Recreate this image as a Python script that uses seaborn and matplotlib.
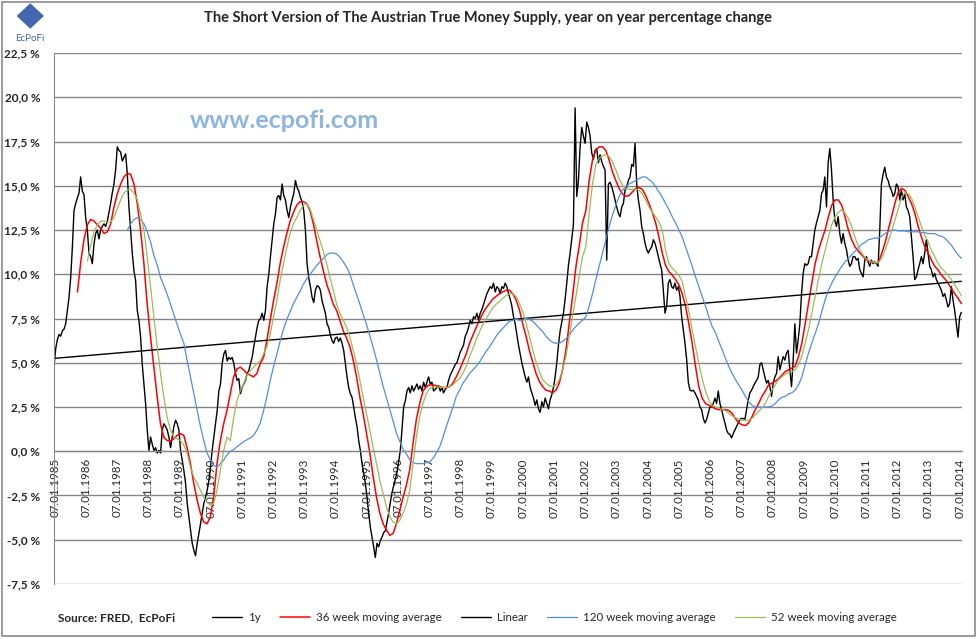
import numpy as np
import pandas as pd
import seaborn as sns
import matplotlib.pyplot as plt
from matplotlib.patches import Rectangle, Polygon

# values read off the chart (yoy % change), 1y sampled every ~2.8 weeks,
# moving averages every ~5.5 weeks
y1_start, y1_end = 1984.98, 2014.05
y1 = [4.8, 5.8, 6.3, 6.6, 6.5, 6.8, 6.9, 7.2, 7.95, 8.7,
      9.8, 11.5, 13.6, 14.0, 14.3, 14.6, 15.5, 14.7, 14.5, 13.2,
      12.5, 11.2, 11.0, 10.6, 11.7, 12.3, 12.5, 12.0, 12.5, 12.7,
      12.85, 12.7, 13.0, 13.5, 14.0, 14.6, 15.1, 15.9, 17.2, 17.0,
      16.9, 16.4, 16.6, 16.8, 15.7, 13.8, 12.5, 11.2, 10.2, 9.65,
      7.95, 7.4, 6.45, 4.9, 3.8, 2.7, 1.2, 0.05, 0.8, 0.4,
      0.05, 0.2, -0.1, 0.05, -0.1, 1.2, 1.55, 1.4, 1.2, 0.8,
      0.2, 0.8, 1.4, 1.75, 1.55, 1.2, 0.05, -0.5, -1.1, -1.8,
      -2.95, -3.7, -4.45, -5.2, -5.6, -5.9, -5.2, -4.65, -4.1, -3.5,
      -2.95, -2.6, -2.2, -1.65, -0.9, 0.05, 0.8, 1.55, 2.3, 3.4,
      3.8, 4.95, 5.5, 5.7, 5.1, 5.3,
      5.2, 5.3, 4.95, 4.4, 4.0, 4.1, 3.25, 3.6, 3.8, 4.0,
      4.4, 4.55, 4.95, 5.3, 5.9, 6.45, 7.0, 7.4, 7.5, 7.8,
      7.4, 7.95, 9.3, 10.0, 11.0, 11.9, 12.85, 13.4, 14.35, 14.45,
      14.2, 15.1, 14.45, 14.2, 13.6, 13.2, 13.8, 14.2, 14.55, 15.3,
      14.9, 14.7, 14.35, 14.1, 13.6, 12.5, 10.6, 9.8, 9.3, 8.7,
      8.4, 9.1, 9.35, 9.3, 9.1, 8.5, 8.15, 7.8, 7.2, 7.0,
      6.55, 6.25, 6.1, 6.4, 6.45, 6.2, 6.4, 6.1, 5.7, 4.95,
      4.2, 3.6, 3.25, 3.05, 2.5, 1.9, 1.4, 0.6, 0.05, -0.7,
      -1.25, -1.8, -2.6, -3.5, -4.3, -4.85, -5.4, -6.0, -5.2, -5.4,
      -5.05, -4.85, -4.6, -4.5, -4.0, -3.5, -2.9, -2.35, -1.95, -1.6,
      -1.2, -0.6, 0.05, 1.2, 2.5, 2.85,
      3.4, 3.6, 3.3, 3.7, 3.4, 3.6, 3.8, 3.5, 3.7, 3.4,
      3.9, 3.6, 3.9, 4.2, 3.8, 3.9, 3.4, 3.5, 3.6, 3.7,
      3.4, 3.6, 3.3, 3.5, 3.6, 4.0, 4.3, 4.5, 4.7, 4.9,
      5.0, 5.3, 5.6, 5.8, 6.0, 6.5, 6.7, 7.0, 7.4, 7.2,
      7.6, 7.5, 7.8, 7.4, 7.8, 8.0, 8.3, 8.6, 8.9, 9.1,
      9.3, 9.2, 9.5, 9.0, 9.3, 9.2, 8.9, 9.3, 9.2, 9.5,
      9.3, 8.9, 8.6, 8.2, 7.6, 7.2, 6.6, 6.0, 5.5, 5.0,
      4.6, 4.2, 3.9, 4.2, 3.6, 3.3, 3.0, 2.6, 2.9, 2.4,
      2.2, 2.8, 2.5, 3.0, 2.7, 2.4, 2.9, 3.2, 3.6, 4.2,
      5.0, 6.0, 6.8, 7.3, 7.8, 8.6, 9.5, 10.5, 11.2, 12.0,
      12.8, 19.4, 14.4, 15.3, 17.2, 18.3, 17.8, 17.4,
      18.6, 18.3, 17.8, 16.85, 16.5, 17.0, 17.1, 16.3, 16.75, 16.35,
      16.1, 15.9, 10.8, 15.1, 15.2, 14.95, 14.6, 14.2, 13.8, 13.45,
      13.25, 13.8, 14.0, 14.75, 14.95, 15.3, 15.5, 16.2, 16.1, 17.4,
      15.1, 14.2, 13.6, 12.7, 12.3, 11.75, 11.4, 11.2, 11.4, 11.55,
      11.95, 11.75, 11.4, 11.0, 10.6, 10.25, 9.1, 7.8, 8.2, 9.5,
      9.7, 9.3, 9.2, 9.5, 9.1, 9.3, 8.75, 7.6, 6.85, 6.1,
      5.2, 3.9, 3.45, 3.4, 3.45, 3.3, 3.1, 2.9, 2.5, 2.35,
      1.85, 1.6, 1.8, 2.15, 2.5, 2.5, 2.7, 3.0, 2.7, 3.4,
      2.7, 2.35, 1.95, 1.6, 1.2, 1.0, 0.95, 0.75, 1.0, 1.2,
      1.4, 1.6, 1.8, 1.85, 1.85, 1.8, 2.35, 2.9, 3.3, 3.45,
      3.65, 3.85, 4.0, 4.2, 4.9, 5.0, 4.6, 4.2,
      3.85, 4.0, 3.65, 3.1, 3.85, 4.2, 4.4, 5.35, 4.6, 5.0,
      5.35, 5.15, 5.55, 5.7, 4.6, 3.65, 5.15, 7.2, 5.55, 6.3,
      7.2, 8.9, 10.05, 10.6, 10.5, 10.6, 11.0, 11.0, 11.75, 12.5,
      12.9, 13.25, 13.6, 14.55, 14.75, 15.5, 13.8, 16.3, 17.1, 15.9,
      14.2, 13.05, 12.7, 13.25, 12.3, 11.75, 12.3, 11.75, 11.4, 10.8,
      10.45, 10.6, 11.0, 11.0, 10.8, 10.9, 10.25, 10.05, 9.85, 10.8,
      11.0, 10.7, 10.45, 10.8, 10.6, 10.7, 10.6, 10.45, 12.5, 15.1,
      15.65, 16.05, 15.5, 15.3, 14.95, 14.75, 14.4, 14.55, 15.1, 14.95,
      14.2, 14.75, 14.2, 14.55, 13.8, 13.6, 13.25, 12.1, 11.0, 9.7,
      9.85, 10.25, 10.6, 11.0, 10.6, 11.2, 11.95, 11.2, 10.45, 10.25,
      9.85, 10.05, 9.7, 9.5, 9.3, 9.1, 8.75, 8.9, 8.55, 8.15,
      8.35, 9.3, 8.55, 7.95, 7.2, 6.45, 7.6, 7.85]

ma36_start, ma36_end = 1985.73, 2014.05
ma36 = [9.0, 10.7, 12.0, 12.8, 13.1, 13.0, 12.8, 12.6, 12.3, 12.4,
        12.85, 13.8, 14.55, 15.1, 15.5, 15.7, 15.65, 15.1, 14.0, 12.5,
        10.6, 8.3, 6.45, 4.75, 3.05, 1.55, 0.8, 0.6, 0.6, 0.7,
        0.9, 1.0, 0.9, 0.2, -0.7, -1.8, -2.75, -3.5, -4.0, -4.1,
        -3.7, -2.6, -0.7, 0.6, 1.55, 2.3,
        3.25, 4.2, 4.65, 4.75, 4.6, 4.4, 4.3, 4.2, 4.4, 4.95,
        5.3, 6.25, 7.4, 8.5, 9.45, 10.6, 11.5, 12.3, 13.0, 13.5,
        13.9, 14.1, 14.1, 14.0, 13.6, 12.85, 11.9, 11.0, 10.2, 9.45,
        8.9, 8.3, 7.95, 7.4, 6.8, 6.4, 5.9, 5.15, 4.2, 3.05,
        2.1, 1.0, -0.1, -1.45, -2.6, -3.5, -4.1, -4.45, -4.75, -4.65,
        -4.1, -3.35, -2.6, -1.9,
        -1.05, 0.45, 1.8, 2.7, 3.4, 3.65, 3.75, 3.75, 3.7, 3.65,
        3.6, 3.6, 3.65, 3.85, 4.2, 4.6, 5.05, 5.5, 6.1, 6.55,
        7.0, 7.4, 7.8, 8.1, 8.35, 8.6, 8.75, 8.9, 9.0, 9.1,
        9.1, 8.9, 8.55, 8.0, 7.2, 6.5, 5.7, 5.05, 4.4, 3.95,
        3.65, 3.45, 3.4, 3.3, 3.45, 3.85, 4.6, 5.7, 7.2, 8.75,
        10.4, 11.6, 12.9, 13.6,
        15.3, 16.45, 17.0, 17.2, 17.2, 17.0, 16.45, 15.8, 15.3, 14.85,
        14.55, 14.4, 14.45, 14.65, 14.85, 14.9, 14.8, 14.45, 14.0, 13.5,
        12.9, 12.1, 11.2, 10.5, 10.15, 9.95, 9.7, 9.4, 8.9, 8.2,
        7.2, 6.1, 4.8, 3.65, 3.0, 2.7, 2.6, 2.5, 2.4, 2.35,
        2.35, 2.35, 2.3, 2.15, 1.85, 1.6, 1.5, 1.45, 1.6, 1.95,
        2.35, 2.7, 3.1, 3.4,
        3.75, 3.85, 3.95, 4.1, 4.3, 4.5, 4.6, 4.7, 4.8, 5.35,
        6.1, 7.2, 8.35, 9.5, 10.6, 11.35, 11.95, 12.5, 13.25, 13.9,
        14.2, 14.2, 13.9, 13.25, 12.5, 11.95, 11.55, 11.3, 11.1, 10.9,
        10.75, 10.7, 10.65, 10.65, 11.15, 11.75, 12.5, 13.25, 14.0, 14.65,
        14.85, 14.75, 14.4, 14.0, 13.45, 12.7, 12.1, 11.55, 11.2, 10.8,
        10.45, 10.25, 9.95, 9.75, 9.5, 9.2, 8.9, 8.65, 8.35]

ma52_start, ma52_end = 1986.05, 2014.05
ma52 = [10.75, 11.65, 12.4, 12.8, 13.0, 13.0, 12.95, 12.95, 13.2, 13.7,
        14.2, 14.6, 14.75, 14.8, 14.6, 14.2, 13.4, 12.5, 11.0, 9.3,
        7.6, 5.9, 4.4, 3.05, 1.9, 1.2, 0.8, 0.7, 0.6, 0.35,
        -0.1, -0.9, -1.45, -1.8, -2.2, -2.6, -2.9, -3.05, -2.95, -2.2,
        -1.1, 0.05, 0.8,
        0.6, 1.9, 2.85, 3.4, 3.8, 4.3, 4.55, 4.75, 4.95, 5.1,
        5.5, 5.9, 6.6, 7.6, 8.5, 9.65, 10.6, 11.5, 12.3, 12.85,
        13.2, 13.6, 13.9, 14.0, 13.7, 13.1, 12.5, 11.9, 11.3, 10.6,
        9.8, 9.1, 8.3, 7.8, 7.4, 7.0, 6.45, 5.7, 4.95, 4.0,
        3.05, 2.1, 1.2, 0.2, -0.7, -1.65, -2.4, -3.15, -3.7, -4.0,
        -4.1, -3.9, -3.5, -3.0,
        -2.2, -0.7, 0.8, 1.95, 2.7, 3.25, 3.55, 3.65, 3.65, 3.62,
        3.6, 3.6, 3.65, 3.75, 3.95, 4.1, 4.4, 4.8, 5.35, 5.8,
        6.3, 6.75, 7.15, 7.5, 7.8, 8.1, 8.3, 8.45, 8.65, 8.8,
        8.9, 8.9, 8.75, 8.35, 7.9, 7.25, 6.5, 5.75, 5.05, 4.5,
        4.05, 3.85, 3.7, 3.65, 3.75, 4.05, 4.6, 5.35, 6.5, 7.6,
        8.75, 9.9, 11.0, 11.55,
        13.45, 15.1, 16.2, 16.55, 16.7, 16.75, 16.65, 16.35, 15.9, 15.4,
        15.05, 14.85, 14.8, 14.8, 14.8, 14.75, 14.55, 14.2, 13.8, 13.5,
        13.25, 12.95, 12.5, 11.35, 10.6, 10.35, 10.15, 9.95, 9.6, 8.75,
        7.9, 6.85, 5.9, 5.0, 4.1, 3.4, 2.9, 2.6, 2.5, 2.45,
        2.35, 2.3, 2.15, 2.0, 1.9, 1.8, 1.75, 1.75, 1.75, 1.85,
        2.05, 2.25, 2.45, 2.7,
        3.1, 3.45, 3.75, 4.05, 4.2, 4.35, 4.45, 4.5, 4.6, 4.9,
        5.35, 6.1, 6.85, 7.8, 8.75, 9.7, 10.6, 11.35, 12.1, 12.8,
        13.25, 13.5, 13.65, 13.45, 13.15, 12.7, 12.1, 11.55, 11.2, 10.95,
        10.8, 10.7, 10.65, 10.65, 10.9, 11.35, 11.85, 12.4, 13.05, 13.7,
        14.3, 14.6, 14.55, 14.3, 13.8, 13.25, 12.7, 12.2, 11.85, 11.35,
        11.0, 10.6, 10.35, 10.15, 9.95, 9.7, 9.4, 9.1, 8.8]

ma120_start, ma120_end = 1987.33, 2014.05
ma120 = [12.5, 12.85, 13.1, 13.2, 13.1, 12.85, 12.4, 11.8, 11.05, 10.5,
         9.8, 9.35, 8.85, 8.3, 7.7, 7.15, 6.6, 6.1, 5.1, 4.2,
         3.25, 2.3, 1.4, 0.6, -0.1, -0.5, -0.8, -0.9, -0.7, -0.5,
         -0.2,
         0.0, 0.1, 0.25, 0.4, 0.55, 0.65, 0.75, 0.9, 1.2, 1.6,
         2.3, 3.1, 4.0, 4.8, 5.5, 6.25, 6.9, 7.45, 7.9, 8.35,
         8.7, 9.05, 9.45, 9.75, 10.0, 10.25, 10.5, 10.7, 10.9, 11.1,
         11.2, 11.2, 11.15, 10.95, 10.7, 10.4, 10.0, 9.4, 8.85, 8.3,
         7.7, 7.15, 6.5, 5.85, 5.15, 4.4, 3.65, 3.0, 2.35, 1.7,
         1.0, 0.55, 0.1, -0.15,
         -0.5, -0.65, -0.7, -0.7, -0.7, -0.65, -0.6, -0.4, -0.1, 0.25,
         0.8, 1.4, 1.95, 2.5, 3.1, 3.45, 3.85, 4.1, 4.4, 4.6,
         4.8, 5.05, 5.35, 5.65, 5.9, 6.2, 6.5, 6.75, 6.95, 7.15,
         7.35, 7.4, 7.45, 7.4, 7.4, 7.5, 7.45, 7.35, 7.15, 6.95,
         6.75, 6.5, 6.3, 6.15, 6.1, 6.1, 6.2, 6.35, 6.55, 6.85,
         7.05, 7.25, 7.4, 7.6,
         8.2, 8.9, 9.7, 10.45, 11.2, 11.95, 12.7, 13.35, 13.9, 14.4,
         14.75, 14.95, 15.1, 15.2, 15.3, 15.4, 15.5, 15.5, 15.35, 15.2,
         14.95, 14.65, 14.35, 14.0, 13.65, 13.25, 12.9, 12.5, 12.1, 11.55,
         11.0, 10.45, 9.85, 9.3, 8.75, 8.2, 7.6, 7.05, 6.7, 6.2,
         5.75, 5.25, 4.8, 4.4, 4.05, 3.75, 3.45, 3.1, 2.8, 2.6,
         2.5, 2.5, 2.5, 2.5,
         2.5, 2.55, 2.7, 2.9, 3.05, 3.1, 3.25, 3.3, 3.45, 3.75,
         4.2, 4.9, 5.55, 6.1, 6.65, 7.2, 7.9, 8.55, 9.1, 9.5,
         9.85, 10.15, 10.45, 10.7, 10.9, 11.1, 11.3, 11.5, 11.7, 11.8,
         11.95, 12.0, 12.05, 12.05, 12.15, 12.3, 12.4, 12.5, 12.5, 12.45,
         12.45, 12.45, 12.4, 12.4, 12.4, 12.4, 12.35, 12.35, 12.3, 12.3,
         12.3, 12.2, 12.15, 12.05, 11.85, 11.65, 11.35, 11.1, 10.9]

# Excel linear trendline of the 1y series, end points
linear_years = [1985.0, 2014.05]
linear_vals = [5.25, 9.6]

years = list(range(1985, 2015))
xlabels = ["07.01.%d" % y for y in years]
yticks = [-7.5, -5, -2.5, 0, 2.5, 5, 7.5, 10, 12.5, 15, 17.5, 20, 22.5]
ylabels = [("%.1f %%" % v).replace(".", ",") for v in yticks]


def frame(vals, start, end):
    return pd.DataFrame({"year": np.linspace(start, end, len(vals)), "value": vals})


sns.set_style("white")
plt.rcParams["font.family"] = ["Lato", "DejaVu Sans"]

fig = plt.figure(figsize=(9.77, 6.39), dpi=100)
ax = fig.add_axes([0.0553, 0.0861, 0.9293, 0.8309])

grid_c = "#868686"
sns.lineplot(data=frame(y1, y1_start, y1_end), x="year", y="value", ax=ax,
             color="black", linewidth=1.0, label="1y", sort=False)
sns.lineplot(data=frame(ma36, ma36_start, ma36_end), x="year", y="value", ax=ax,
             color="#ff0000", linewidth=1.1, label="36 week moving average", sort=False)
sns.lineplot(x=linear_years, y=linear_vals, ax=ax,
             color="black", linewidth=1.0, label="Linear", sort=False)
sns.lineplot(data=frame(ma120, ma120_start, ma120_end), x="year", y="value", ax=ax,
             color="#4f8fe0", linewidth=0.9, label="120 week moving average", sort=False)
sns.lineplot(data=frame(ma52, ma52_start, ma52_end), x="year", y="value", ax=ax,
             color="#9bbb59", linewidth=0.9, label="52 week moving average", sort=False)

ax.set_xlim(1984.98, 2014.07)
ax.set_ylim(-7.5, 22.5)
ax.set_yticks(yticks)
ax.set_yticklabels(ylabels)
ax.set_xticks(years)
ax.set_xticklabels(xlabels)
ax.set_xlabel("")
ax.set_ylabel("")
ax.yaxis.grid(True, color=grid_c, linewidth=1.0)
ax.set_axisbelow(True)
for s in ["top", "right"]:
    ax.spines[s].set_visible(False)
ax.spines["left"].set_color(grid_c)
ax.spines["bottom"].set_color(grid_c)
ax.spines["bottom"].set_position(("data", 0))
ax.tick_params(axis="x", direction="inout", length=6, color=grid_c, pad=2,
               labelrotation=90, labelsize=8.3)
ax.tick_params(axis="y", direction="out", length=4, color=grid_c, pad=6, labelsize=8.5)
for t in ax.get_yticklabels():
    t.set_fontweight("bold")
for t in ax.get_xticklabels():
    t.set_rotation(90)
    t.set_va("top")
    t.set_ha("center")

handles, labels = ax.get_legend_handles_labels()
ax.get_legend().remove()
fig.legend(handles, labels, loc="center", bbox_to_anchor=(0.5675, 0.033), ncol=5,
           frameon=False, fontsize=8.3, handlelength=2.6, handletextpad=0.5,
           columnspacing=1.7)

fig.text(0.5, 0.972, "The Short Version of The Austrian True Money Supply, year on year percentage change",
         ha="center", va="center", fontsize=10.5, fontweight="bold")
fig.text(0.291, 0.812, "www.ecpofi.com", ha="center", va="center", fontsize=18,
         fontweight="bold", color="#8db4e2")
fig.text(0.059, 0.033, "Source: FRED,  EcPoFi", ha="left", va="center", fontsize=8.5,
         fontweight="bold")

# logo
fig.text(0.031, 0.94, "EcPoFi", ha="center", va="center", fontsize=7, color="#3a64b0")
fig.patches.append(Polygon([[0.031, 0.995], [0.045, 0.975], [0.031, 0.955], [0.017, 0.975]],
                           closed=True, transform=fig.transFigure, facecolor="#4466b0",
                           edgecolor="none"))
fig.patches.append(Rectangle((0.002, 0.004), 0.996, 0.993, transform=fig.transFigure,
                             fill=False, edgecolor="#8a8a8a", linewidth=1.2))

fig.savefig("out.png", dpi=100)
